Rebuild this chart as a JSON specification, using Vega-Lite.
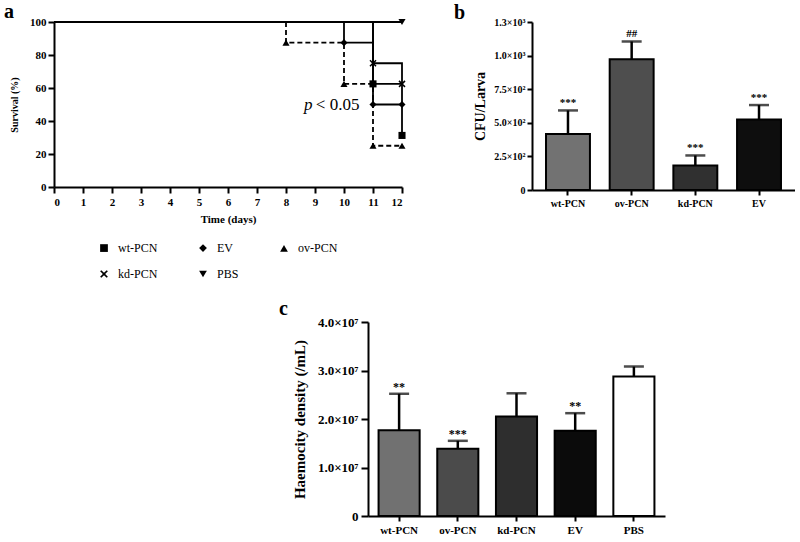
{
  "$schema": "https://vega.github.io/schema/vega-lite/v6.json",
  "background": "white",
  "padding": {"left": 4, "top": 2, "right": 0, "bottom": 0},
  "spacing": 18,
  "resolve": {"scale": {"fill": "independent", "shape": "independent"}},
  "config": {
    "view": {"stroke": null},
    "font": "Liberation Serif",
    "axis": {
      "domainColor": "black", "domainWidth": 2, "tickColor": "black", "tickWidth": 2, "tickSize": 6,
      "labelColor": "black", "labelFont": "Liberation Serif", "labelFontWeight": "bold", "labelOverlap": false,
      "titleFont": "Liberation Serif", "titleFontWeight": "bold", "titleColor": "black", "grid": false
    },
    "title": {"font": "Liberation Serif", "fontWeight": "bold", "fontSize": 20, "color": "black", "anchor": "start", "frame": "group"}
  },
  "vconcat": [
    {
      "bounds": "flush",
      "spacing": 130,
      "resolve": {"scale": {"fill": "independent", "shape": "independent"}},
      "hconcat": [
        {
          "title": {"text": "a", "dx": -50, "offset": -6},
          "width": 348,
          "height": 165,
          "data": {"values": [
            {"group": "wt-PCN", "day": 0, "survival": 100},
            {"group": "wt-PCN", "day": 11, "survival": 62.5},
            {"group": "wt-PCN", "day": 12, "survival": 31.25},
            {"group": "EV", "day": 0, "survival": 100},
            {"group": "EV", "day": 10, "survival": 87.5},
            {"group": "EV", "day": 11, "survival": 50},
            {"group": "EV", "day": 12, "survival": 50},
            {"group": "ov-PCN", "day": 0, "survival": 100},
            {"group": "ov-PCN", "day": 8, "survival": 87.5},
            {"group": "ov-PCN", "day": 10, "survival": 62.5},
            {"group": "ov-PCN", "day": 11, "survival": 25},
            {"group": "ov-PCN", "day": 12, "survival": 25},
            {"group": "kd-PCN", "day": 0, "survival": 100},
            {"group": "kd-PCN", "day": 11, "survival": 75},
            {"group": "kd-PCN", "day": 12, "survival": 62.5},
            {"group": "PBS", "day": 0, "survival": 100},
            {"group": "PBS", "day": 12, "survival": 100}
          ]},
          "encoding": {
            "x": {"field": "day", "type": "quantitative", "scale": {"domain": [0, 12], "nice": false},
                  "axis": {"values": [0,1,2,3,4,5,6,7,8,9,10,11,12], "title": "Time (days)", "labelFontSize": 11, "titleFontSize": 11, "titlePadding": 6, "labelPadding": 3}},
            "y": {"field": "survival", "type": "quantitative", "scale": {"domain": [0, 100], "nice": false},
                  "axis": {"values": [0,20,40,60,80,100], "title": "Survival (%)", "labelFontSize": 11, "titleFontSize": 10, "titlePadding": 10, "labelPadding": 2}}
          },
          "layer": [
            {
              "transform": [{"filter": "datum.group == 'ov-PCN'"}],
              "mark": {"type": "line", "interpolate": "step-after", "color": "black", "strokeWidth": 1.8, "strokeDash": [5, 3]},
              "encoding": {"detail": {"field": "group"}}
            },
            {
              "transform": [{"filter": "datum.group != 'ov-PCN'"}],
              "mark": {"type": "line", "interpolate": "step-after", "color": "black", "strokeWidth": 1.8},
              "encoding": {"detail": {"field": "group"}}
            },
            {
              "transform": [{"filter": "datum.day > 0"}],
              "mark": {"type": "point", "filled": true, "color": "black", "size": 50, "opacity": 1},
              "encoding": {
                "shape": {
                  "field": "group", "type": "nominal",
                  "scale": {
                    "domain": ["wt-PCN", "EV", "ov-PCN", "kd-PCN", "PBS"],
                    "range": ["square", "diamond", "triangle-up", "M-1,-0.7L-0.3,0L-1,0.7L-0.7,1L0,0.3L0.7,1L1,0.7L0.3,0L1,-0.7L0.7,-1L0,-0.3L-0.7,-1Z", "triangle-down"]
                  },
                  "legend": {
                    "orient": "none", "legendX": 44, "legendY": 220, "columns": 3, "direction": "horizontal",
                    "title": null, "labelFont": "Liberation Serif", "labelFontSize": 12, "labelColor": "black",
                    "symbolSize": 60, "symbolFillColor": "black", "symbolStrokeColor": "black",
                    "columnPadding": 38, "rowPadding": 12, "labelOffset": 8
                  }
                }
              }
            },
            {
              "data": {"values": [{"day": 8.62, "survival": 50, "t": "p"}]},
              "mark": {"type": "text", "align": "left", "baseline": "middle", "fontSize": 17, "fontStyle": "italic", "font": "Liberation Serif", "color": "black"},
              "encoding": {"text": {"field": "t"}}
            },
            {
              "data": {"values": [{"day": 9.03, "survival": 50, "t": "< 0.05"}]},
              "mark": {"type": "text", "align": "left", "baseline": "middle", "fontSize": 17, "font": "Liberation Serif", "color": "black"},
              "encoding": {"text": {"field": "t"}}
            }
          ]
        },
        {
          "title": {"text": "b", "dx": -78, "offset": -6},
          "width": 263,
          "height": 168,
          "data": {"values": [
            {"group": "wt-PCN", "cfu": 417, "err": 592, "sig": "***"},
            {"group": "ov-PCN", "cfu": 972, "err": 1105, "sig": "##"},
            {"group": "kd-PCN", "cfu": 182, "err": 257, "sig": "***"},
            {"group": "EV", "cfu": 525, "err": 632, "sig": "***"}
          ]},
          "encoding": {
            "x": {"field": "group", "type": "nominal", "sort": null,
                  "scale": {"paddingInner": 0.31, "paddingOuter": 0.22},
                  "axis": {"title": null, "labelAngle": 0, "labelFontSize": 10, "tickSize": 5, "labelPadding": 3}}
          },
          "layer": [
            {
              "mark": {"type": "rule", "color": "black", "strokeWidth": 2.5},
              "encoding": {
                "y": {"field": "cfu", "type": "quantitative", "title": "CFU/Larva",
                      "scale": {"domain": [0, 1250], "nice": false},
                      "axis": {"values": [0, 250, 500, 750, 1000, 1250], "labelFontSize": 10, "titleFontSize": 14, "tickSize": 5, "labelPadding": 2, "titlePadding": 6,
                               "labelExpr": "datum.value == 0 ? '0' : (datum.value < 1000 ? format(datum.value / 100, '.1f') + '×10²' : format(datum.value / 1000, '.1f') + '×10³')"}},
                "y2": {"field": "err"}
              }
            },
            {
              "mark": {"type": "tick", "color": "black", "thickness": 2.5, "size": 20},
              "encoding": {"y": {"field": "err", "type": "quantitative", "title": "CFU/Larva",
                      "axis": {"values": [0, 250, 500, 750, 1000, 1250], "labelFontSize": 10, "titleFontSize": 14, "tickSize": 5, "labelPadding": 2, "titlePadding": 6,
                               "labelExpr": "datum.value == 0 ? '0' : (datum.value < 1000 ? format(datum.value / 100, '.1f') + '×10²' : format(datum.value / 1000, '.1f') + '×10³')"}}}
            },
            {
              "mark": {"type": "bar", "stroke": "black", "strokeWidth": 2},
              "encoding": {
                "y": {"field": "cfu", "type": "quantitative", "title": "CFU/Larva",
                      "scale": {"domain": [0, 1250], "nice": false},
                      "axis": {"values": [0, 250, 500, 750, 1000, 1250], "labelFontSize": 10, "titleFontSize": 14, "tickSize": 5, "labelPadding": 2, "titlePadding": 6,
                               "labelExpr": "datum.value == 0 ? '0' : (datum.value < 1000 ? format(datum.value / 100, '.1f') + '×10²' : format(datum.value / 1000, '.1f') + '×10³')"}},
                "fill": {"field": "group", "type": "nominal", "sort": null,
                         "scale": {"domain": ["wt-PCN", "ov-PCN", "kd-PCN", "EV"], "range": ["#727272", "#4e4e4e", "#303030", "#0e0e0e"]},
                         "legend": null}
              }
            },
            {
              "mark": {"type": "text", "dy": -7, "fontWeight": "bold", "fontSize": 11, "fill": "black", "font": "Liberation Serif"},
              "encoding": {
                "y": {"field": "err", "type": "quantitative", "title": "CFU/Larva",
                      "axis": {"values": [0, 250, 500, 750, 1000, 1250], "labelFontSize": 10, "titleFontSize": 14, "tickSize": 5, "labelPadding": 2, "titlePadding": 6,
                               "labelExpr": "datum.value == 0 ? '0' : (datum.value < 1000 ? format(datum.value / 100, '.1f') + '×10²' : format(datum.value / 1000, '.1f') + '×10³')"}},
                "text": {"field": "sig"}
              }
            }
          ]
        }
      ]
    },
    {
      "bounds": "flush",
      "spacing": 214,
      "resolve": {"scale": {"fill": "independent"}},
      "hconcat": [
        {
          "width": 100,
          "height": 10,
          "data": {"values": [{}]},
          "mark": {"type": "point", "opacity": 0},
          "encoding": {}
        },
        {
          "title": {"text": "c", "dx": -89, "offset": -3},
          "width": 297,
          "height": 194,
          "data": {"values": [
            {"group": "wt-PCN", "dens": 17660000, "err": 25200000, "sig": "**"},
            {"group": "ov-PCN", "dens": 13860000, "err": 15500000, "sig": "***"},
            {"group": "kd-PCN", "dens": 20500000, "err": 25300000, "sig": ""},
            {"group": "EV", "dens": 17600000, "err": 21200000, "sig": "**"},
            {"group": "PBS", "dens": 28760000, "err": 30800000, "sig": ""}
          ]},
          "encoding": {
            "x": {"field": "group", "type": "nominal", "sort": null,
                  "scale": {"paddingInner": 0.3, "paddingOuter": 0.18},
                  "axis": {"title": null, "labelAngle": 0, "labelFontSize": 11, "tickSize": 5, "labelPadding": 3}}
          },
          "layer": [
            {
              "mark": {"type": "rule", "color": "black", "strokeWidth": 2.5},
              "encoding": {
                "y": {"field": "dens", "type": "quantitative", "title": "Haemocity density (/mL)",
                      "scale": {"domain": [0, 40000000], "nice": false},
                      "axis": {"values": [0, 10000000, 20000000, 30000000, 40000000], "labelFontSize": 13, "titleFontSize": 15, "tickSize": 7, "labelPadding": 3, "titlePadding": 10,
                               "labelExpr": "datum.value == 0 ? '0' : format(datum.value / 10000000, '.1f') + '×10⁷'"}},
                "y2": {"field": "err"}
              }
            },
            {
              "mark": {"type": "tick", "color": "black", "thickness": 2.5, "size": 20},
              "encoding": {"y": {"field": "err", "type": "quantitative", "title": "Haemocity density (/mL)",
                      "axis": {"values": [0, 10000000, 20000000, 30000000, 40000000], "labelFontSize": 13, "titleFontSize": 15, "tickSize": 7, "labelPadding": 3, "titlePadding": 10,
                               "labelExpr": "datum.value == 0 ? '0' : format(datum.value / 10000000, '.1f') + '×10⁷'"}}}
            },
            {
              "mark": {"type": "bar", "stroke": "black", "strokeWidth": 2},
              "encoding": {
                "y": {"field": "dens", "type": "quantitative", "title": "Haemocity density (/mL)",
                      "scale": {"domain": [0, 40000000], "nice": false},
                      "axis": {"values": [0, 10000000, 20000000, 30000000, 40000000], "labelFontSize": 13, "titleFontSize": 15, "tickSize": 7, "labelPadding": 3, "titlePadding": 10,
                               "labelExpr": "datum.value == 0 ? '0' : format(datum.value / 10000000, '.1f') + '×10⁷'"}},
                "fill": {"field": "group", "type": "nominal", "sort": null,
                         "scale": {"domain": ["wt-PCN", "ov-PCN", "kd-PCN", "EV", "PBS"], "range": ["#717171", "#4b4b4b", "#2e2e2e", "#0b0b0b", "#ffffff"]},
                         "legend": null}
              }
            },
            {
              "mark": {"type": "text", "dy": -7, "fontWeight": "bold", "fontSize": 12, "fill": "black", "font": "Liberation Serif"},
              "encoding": {
                "y": {"field": "err", "type": "quantitative", "title": "Haemocity density (/mL)",
                      "axis": {"values": [0, 10000000, 20000000, 30000000, 40000000], "labelFontSize": 13, "titleFontSize": 15, "tickSize": 7, "labelPadding": 3, "titlePadding": 10,
                               "labelExpr": "datum.value == 0 ? '0' : format(datum.value / 10000000, '.1f') + '×10⁷'"}},
                "text": {"field": "sig"}
              }
            }
          ]
        }
      ]
    }
  ]
}
